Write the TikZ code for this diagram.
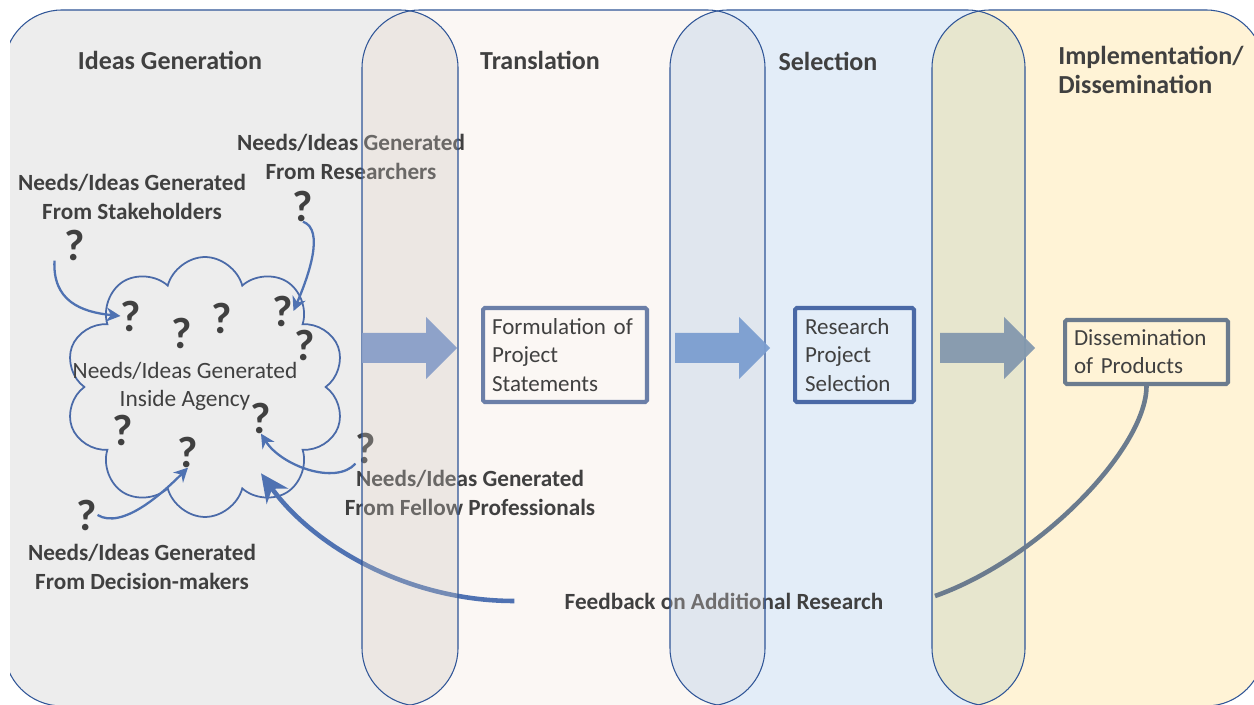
\documentclass[tikz,border=0pt]{standalone}
\usepackage{fontspec}
\setmainfont{Carlito}
\usetikzlibrary{calc,arrows.meta,positioning,shapes.symbols}
\definecolor{ideaGray}{RGB}{237,237,237}
\definecolor{transCream}{RGB}{251,247,244}
\definecolor{selBlue}{RGB}{227,237,248}
\definecolor{implYellow}{RGB}{255,243,214}
\definecolor{panelLine}{RGB}{47,85,151}
\definecolor{stripA}{RGB}{204,197,191}
\definecolor{stripB}{RGB}{220,214,215}
\definecolor{stripC}{RGB}{178,200,190}
\definecolor{cloudBlue}{RGB}{74,106,168}
\definecolor{arrowBlue}{RGB}{79,114,178}
\definecolor{flowA}{RGB}{138,159,200}
\definecolor{flowB}{RGB}{123,158,208}
\definecolor{flowC}{RGB}{132,153,174}
\definecolor{formLine}{RGB}{107,127,168}
\definecolor{selLine}{RGB}{74,105,166}
\definecolor{disLine}{RGB}{107,123,142}
\definecolor{txtGray}{RGB}{64,64,64}
\newcommand{\panelIdeas}{(4,10) rectangle (458,706)}
\newcommand{\panelTrans}{(362,10) rectangle (765,706)}
\newcommand{\panelSel}{(670,10) rectangle (1025,706)}
\newcommand{\panelImpl}{(932,10) rectangle (1264,706)}
\begin{document}
\begin{tikzpicture}[x=0.02cm, y=-0.02cm,
  panel/.style={rounded corners=1.16cm},
  heading/.style={font=\fontsize{14.8}{17}\selectfont\bfseries, text=txtGray, inner sep=0pt},
  srcLabel/.style={font=\fontsize{13.2}{16}\selectfont\bfseries, text=txtGray, align=center, inner sep=0pt},
  qmark/.style={font=\fontsize{25}{25}\selectfont\bfseries, text=txtGray, inner sep=0pt},
  stepbox/.style={draw, line width=2.3pt, rounded corners=1pt, font=\fontsize{13.1}{16}\selectfont, text=txtGray, align=left},
  qarrow/.style={draw=arrowBlue, line width=1.3pt, -{Stealth[length=8pt,width=8pt]}}]
\useasboundingbox (0,0) rectangle (1254,705);
\clip (10,0) rectangle (1254,706);

% panels
\fill[ideaGray, panel] \panelIdeas;
\fill[transCream, panel] \panelTrans;
\fill[selBlue, panel] \panelSel;
\fill[implYellow, panel] \panelImpl;

% headings
\node[heading] (hIdeas) at (170,60) {Ideas Generation};
\node[heading] (hTrans) at (540,60) {Translation};
\node[heading] (hSel) at (828,61) {Selection};
\node[heading, align=left, anchor=west] (hImpl) at (1058,70) {Implementation/\\Dissemination};

% cloud of needs
\node[cloud, cloud puffs=10, cloud ignores aspect, draw=cloudBlue, line width=1pt,
  minimum width=5.6cm, minimum height=5.2cm] (cloud) at (205,387) {};
\node[font=\fontsize{13.3}{16}\selectfont, text=txtGray, align=center, inner sep=0pt] (agency) at (185,386) {Needs/Ideas Generated\\Inside Agency};
\foreach \qx/\qy [count=\i] in {131/316,182/333,222/318,283/311,305/345,123/430,188/452,261/418}
  \node[qmark] (q\i) at (\qx,\qy) {?};

% sources
\node[srcLabel] (lStake) at (132,197) {Needs/Ideas Generated\\From Stakeholders};
\node[qmark] (qStake) at (75,245) {?};
\node[srcLabel] (lRes) at (351,157) {Needs/Ideas Generated\\From Researchers};
\node[qmark] (qRes) at (303,206) {?};
\node[srcLabel] (lFellow) at (470,493) {Needs/Ideas Generated\\From Fellow Professionals};
\node[qmark] (qFellow) at (366,448) {?};
\node[srcLabel] (lDec) at (142,567) {Needs/Ideas Generated\\From Decision-makers};
\node[qmark] (qDec) at (87,515) {?};

\draw[qarrow] ([xshift=-0.2cm]qStake.south west) .. controls +(-2,40) and +(-40,-4) .. (q1.west);
\draw[qarrow] (qRes.south) .. controls +(22,8) and +(15,-35) .. (q4.east);
\draw[qarrow] (qFellow.south west) .. controls +(-20,22) and +(20,32) .. (q8.south);
\draw[qarrow] (qDec.east) .. controls +(25,15) and +(-25,25) .. (q7.south);

% feedback
\node[srcLabel] (fb) at (724,601) {Feedback on Additional Research};
\draw[draw=arrowBlue, line width=2.6pt, shorten <=1cm, -{Stealth[length=16pt,width=15pt]}]
  (fb.west) .. controls +(-160,0) and +(50,70) .. ($(cloud.center)!0.78!(cloud.-57)$);

% overlaps of the panels
\begin{scope}
  \clip[panel] \panelIdeas;
  \fill[stripA, fill opacity=0.3, panel] \panelTrans;
\end{scope}
\begin{scope}
  \clip[panel] \panelTrans;
  \fill[stripB, fill opacity=0.3, panel] \panelSel;
\end{scope}
\begin{scope}
  \clip[panel] \panelSel;
  \fill[stripC, fill opacity=0.3, panel] \panelImpl;
\end{scope}
\foreach \p in {\panelIdeas,\panelTrans,\panelSel,\panelImpl}
  \draw[panelLine, line width=0.6pt, panel] \p;

% block arrows
\foreach \ax/\acol in {362/flowA,675/flowB,940/flowC}
  \fill[\acol, fill opacity=0.95] (\ax,333) -- (\ax+64,333) -- (\ax+64,317) -- (\ax+95,348)
    -- (\ax+64,379) -- (\ax+64,363) -- (\ax,363) -- cycle;

% steps
\node[stepbox, draw=formLine, minimum width=3.28cm, minimum height=1.88cm, text width=2.92cm] (form) at (565,355) {Formulation of\\Project\\Statements};
\node[stepbox, draw=selLine, minimum width=2.38cm, minimum height=1.88cm, text width=1.98cm] (sel) at (854.5,355) {Research\\Project\\Selection};
\node[stepbox, draw=disLine, minimum width=3.26cm, minimum height=1.28cm, text width=2.9cm] (dis) at (1146.5,352) {Dissemination\\of Products};
\coordinate (fbEnd) at (935,596);
\draw[disLine, line width=2.6pt] (dis.south) .. controls +(0,62) and +(105,-37) .. (fbEnd);
\end{tikzpicture}
\end{document}
